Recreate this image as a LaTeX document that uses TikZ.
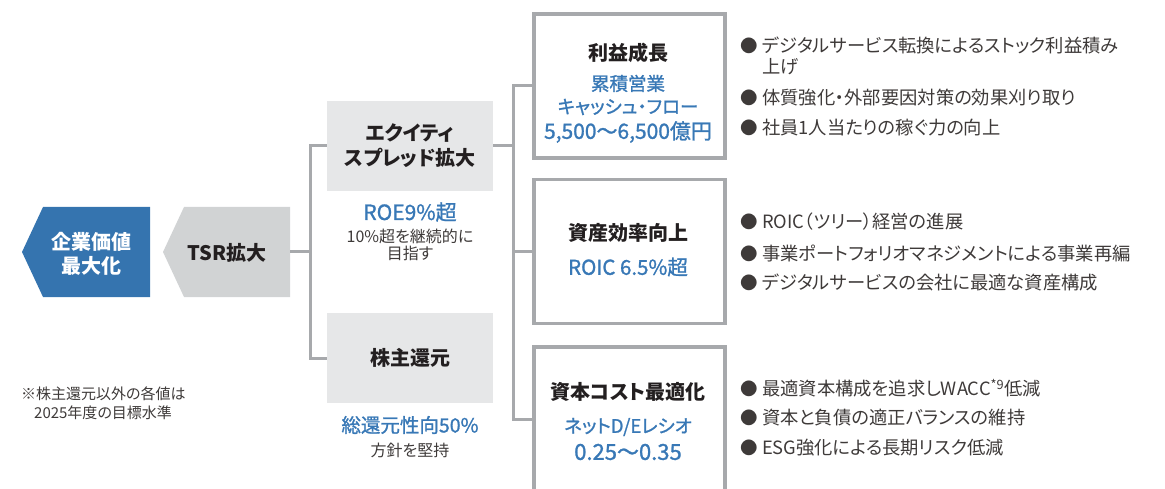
\documentclass[tikz,border=0pt]{standalone}
\usepackage{fontspec}
\setmainfont{Noto Sans CJK JP}[RawFeature=+palt]
\newfontfamily\medfont{Noto Sans CJK JP}[RawFeature=+palt,FakeBold=1.2]
\usetikzlibrary{positioning}
\definecolor{vpblue}{HTML}{3574AF}
\definecolor{vptext}{HTML}{3878B6}
\definecolor{vpline}{HTML}{A7A9AC}
\definecolor{vpfill}{HTML}{E6E7E8}
\definecolor{vpgrey}{HTML}{D1D3D4}
\definecolor{vpink}{HTML}{231F20}
\definecolor{vpsub}{HTML}{3E3A39}
\newcommand{\vpbullet}{\makebox[22pt][l]{\fontsize{17.5}{22}\selectfont●}}
\tikzset{
  conn/.style={draw=vpline,line width=3pt},
  kpibox/.style={draw=vpline,line width=3.5pt,fill=white,minimum width=191pt,
                 minimum height=144pt,inner sep=0pt},
  leverbox/.style={fill=vpfill,minimum width=166pt,minimum height=90pt,inner sep=0pt,
                   align=center,font=\fontsize{20}{25}\selectfont\bfseries,text=vpink},
  headtxt/.style={font=\fontsize{20}{24}\selectfont\bfseries,text=vpink,align=center,inner sep=0pt},
  kpi/.style={font=\fontsize{18.5}{23}\medfont,text=vptext,align=center,inner sep=0pt},
  kpibig/.style={font=\fontsize{21}{24}\medfont,text=vptext,align=center,inner sep=0pt},
  note/.style={font=\fontsize{16}{17}\selectfont,text=vpsub,align=center,inner sep=0pt},
  itemline/.style={font=\fontsize{18.3}{22}\selectfont,text=vpsub,anchor=west,inner sep=0pt},
}
\begin{document}
\begin{tikzpicture}[x=1pt,y=-1pt]
  \useasboundingbox (0,0) rectangle (1165,489);
  \clip (0,0) rectangle (1165,489);
  % left arrows
  \fill[vpblue] (43,207) -- (150,207) -- (150,297) -- (43,297) -- (22,252) -- cycle;
  \fill[vpgrey] (184,207) -- (290,207) -- (290,297) -- (184,297) -- (163,252) -- cycle;
  \node[headtxt,text=white] (ev) at (91,254) {企業価値\\最大化};
  \node[headtxt] (tsr) at (227,253) {TSR拡大};
  \coordinate (tsrR) at (290,252);
  % levers
  \node[leverbox] (eq) at (410,146) {エクイティ\\スプレッド拡大};
  \node[leverbox] (sh) at (410,358) {株主還元};
  \node[kpi,font=\fontsize{21}{24}\medfont] (roe) at (410,212) {ROE9\%超};
  \node[note] (roeN) at (410,245) {10\%超を継続的に\\目指す};
  \node[kpi,font=\fontsize{19.5}{23}\medfont] (tp) at (410,425) {総還元性向50\%};
  \node[note] (tpN) at (410,450) {方針を堅持};
  \coordinate (j1) at (310,252);
  \coordinate (j2) at (513,146);
  % right boxes
  \node[kpibox] (kA) at (629.5,86) {};
  \node[kpibox] (kB) at (629.5,251.5) {};
  \node[kpibox] (kC) at (629.5,419) {};
  \draw[conn] (tsrR) -- (j1);
  \draw[conn] (eq.west) -| (j1) |- (sh.west);
  \draw[conn] (eq.east) -- (j2);
  \draw[conn] (kA.west) -| (j2) |- (kC.west);
  \draw[conn] (j2 |- kB.west) -- (kB.west);
  \node[headtxt] (kAh) at (628,53) {利益成長};
  \node[kpi] (kAt) at (628,95) {累積営業\\キャッシュ・フロー};
  \node[kpibig] (kAv) at (628,132) {5,500〜6,500億円};
  \node[headtxt] (kBh) at (628,233) {資産効率向上};
  \node[kpibig,font=\fontsize{20.5}{24}\medfont] (kBv) at (628,267) {ROIC 6.5\%超};
  \node[headtxt] (kCh) at (628,392) {資本コスト最適化};
  \node[kpi] (kCt) at (628,427) {ネットD/Eレシオ};
  \node[kpibig,font=\fontsize{22}{24}\medfont] (kCv) at (628,452) {0.25〜0.35};
  % measures
  \node[itemline] (a1) at (740,45) {\vpbullet デジタルサービス転換によるストック利益積み};
  \node[itemline] (a1b) at (762,67) {上げ};
  \node[itemline] (a2) at (740,98) {\vpbullet 体質強化・外部要因対策の効果刈り取り};
  \node[itemline] (a3) at (740,128) {\vpbullet 社員1人当たりの稼ぐ力の向上};
  \node[itemline] (b1) at (740,222) {\vpbullet ROIC（ツリー）経営の進展};
  \node[itemline] (b2) at (740,253) {\vpbullet 事業ポートフォリオマネジメントによる事業再編};
  \node[itemline] (b3) at (740,283) {\vpbullet デジタルサービスの会社に最適な資産構成};
  \node[itemline] (c1) at (740,388) {\vpbullet 最適資本構成を追求しWACC\textsuperscript{*9}低減};
  \node[itemline] (c2) at (740,418) {\vpbullet 資本と負債の適正バランスの維持};
  \node[itemline] (c3) at (740,448) {\vpbullet ESG強化による長期リスク低減};
  % footnote
  \node[note,anchor=west,align=left,font=\fontsize{15}{19}\selectfont] (fn) at (21,403.5)
    {※株主還元以外の各値は\\\hspace*{13pt}2025年度の目標水準};
\end{tikzpicture}
\end{document}
